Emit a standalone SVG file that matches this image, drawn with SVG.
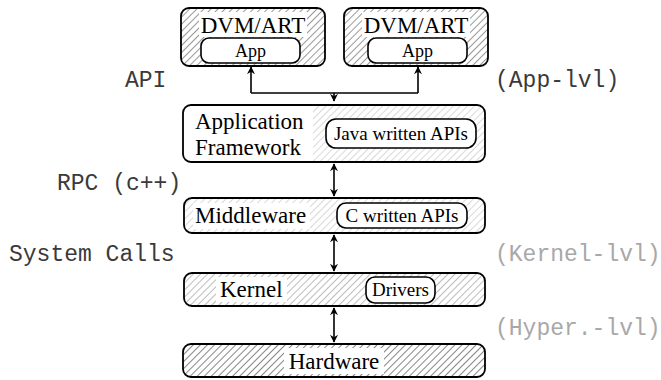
<svg xmlns="http://www.w3.org/2000/svg" width="661" height="380" viewBox="0 0 661 380">
  <style>
    .box { fill: none; stroke: #000; stroke-width: 1.8; }
    .inner { fill: #fff; stroke: #000; stroke-width: 1.6; }
    .serif { font-family: "Liberation Serif", "Times New Roman", serif; fill: #000; }
    .big { font-size: 23px; }
    .mid { font-size: 19px; }
    .small { font-size: 18px; }
    .mono { font-family: "Liberation Mono", "Courier New", monospace; font-size: 23px; }
    .dark { fill: #3a3a3a; }
    .gray { fill: #a8a8a8; }
    .wire { fill: none; stroke: #000; stroke-width: 1.6; }
  </style>
  <defs>
    <pattern id="hatchDark" width="5" height="5" patternUnits="userSpaceOnUse" patternTransform="rotate(45)">
      <rect width="5" height="5" fill="#fff"/>
      <line x1="0" y1="0" x2="0" y2="5" stroke="#444" stroke-width="1.1"/>
    </pattern>
    <pattern id="hatchLight" width="5" height="5" patternUnits="userSpaceOnUse" patternTransform="rotate(45)">
      <rect width="5" height="5" fill="#fff"/>
      <line x1="0" y1="0" x2="0" y2="5" stroke="#b4b4b4" stroke-width="1"/>
    </pattern>
    <pattern id="hatchMid" width="5" height="5" patternUnits="userSpaceOnUse" patternTransform="rotate(45)">
      <rect width="5" height="5" fill="#fff"/>
      <line x1="0" y1="0" x2="0" y2="5" stroke="#7a7a7a" stroke-width="1"/>
    </pattern>
    <pattern id="hatchBlack" width="5" height="5" patternUnits="userSpaceOnUse" patternTransform="rotate(45)">
      <rect width="5" height="5" fill="#fff"/>
      <line x1="0" y1="0" x2="0" y2="5" stroke="#222" stroke-width="1.1"/>
    </pattern>
    <clipPath id="fwClip">
      <rect x="183" y="105" width="302" height="57" rx="8"/>
    </clipPath>
    <marker id="head" viewBox="0 0 10 10" refX="9" refY="5" markerWidth="8" markerHeight="8" orient="auto-start-reverse" markerUnits="userSpaceOnUse">
      <path d="M0,0 L10,5 L0,10 L3,5 Z" fill="#000"/>
    </marker>
  </defs>

  <!-- runtime boxes -->
  <g id="dvm-left">
    <rect x="181" y="8" width="144" height="58" rx="8" fill="url(#hatchDark)"/>
    <rect x="199" y="12" width="108" height="25" fill="#fff"/>
    <rect x="181" y="8" width="144" height="58" rx="8" class="box"/>
    <text x="253" y="33" text-anchor="middle" class="serif big">DVM/ART</text>
    <rect x="201" y="38" width="99" height="25" rx="8" class="inner"/>
    <text x="250.5" y="57" text-anchor="middle" class="serif small">App</text>
  </g>
  <g id="dvm-right">
    <rect x="344" y="8" width="144" height="58" rx="8" fill="url(#hatchDark)"/>
    <rect x="362" y="12" width="108" height="25" fill="#fff"/>
    <rect x="344" y="8" width="144" height="58" rx="8" class="box"/>
    <text x="416" y="33" text-anchor="middle" class="serif big">DVM/ART</text>
    <rect x="368" y="38" width="99" height="25" rx="8" class="inner"/>
    <text x="417.5" y="57" text-anchor="middle" class="serif small">App</text>
  </g>

  <!-- application framework -->
  <g id="framework">
    <rect x="183" y="105" width="302" height="57" rx="8" fill="#fff"/>
    <rect x="313" y="105" width="172" height="57" fill="url(#hatchLight)" clip-path="url(#fwClip)"/>
    <rect x="183" y="105" width="302" height="57" rx="8" class="box"/>
    <text x="195" y="129" class="serif big">Application</text>
    <text x="195" y="155" class="serif big">Framework</text>
    <rect x="326" y="119" width="150" height="29" rx="10" class="inner"/>
    <text x="401" y="139.5" text-anchor="middle" class="serif mid">Java written APIs</text>
  </g>

  <!-- middleware -->
  <g id="middleware">
    <rect x="184" y="198" width="301" height="35" rx="8" fill="url(#hatchLight)"/>
    <rect x="193" y="203" width="117" height="26" fill="#fff"/>
    <rect x="184" y="198" width="301" height="35" rx="8" class="box"/>
    <text x="195" y="223" class="serif big">Middleware</text>
    <rect x="337" y="203" width="130" height="25" rx="9" class="inner"/>
    <text x="402" y="222" text-anchor="middle" class="serif mid">C written APIs</text>
  </g>

  <!-- kernel -->
  <g id="kernel">
    <rect x="184" y="273" width="301" height="33" rx="8" fill="url(#hatchMid)"/>
    <rect x="216" y="277" width="71" height="25" fill="#fff"/>
    <rect x="184" y="273" width="301" height="33" rx="8" class="box"/>
    <text x="220" y="297" class="serif big">Kernel</text>
    <rect x="366" y="277" width="69" height="26" rx="9" class="inner"/>
    <text x="400.5" y="296" text-anchor="middle" class="serif mid">Drivers</text>
  </g>

  <!-- hardware -->
  <g id="hardware">
    <rect x="183" y="344" width="302" height="33" rx="8" fill="url(#hatchBlack)"/>
    <rect x="284" y="348" width="100" height="26" fill="#fff"/>
    <rect x="183" y="344" width="302" height="33" rx="8" class="box"/>
    <text x="334" y="369" text-anchor="middle" class="serif big">Hardware</text>
  </g>

  <!-- connectors -->
  <g id="connectors">
    <path d="M251,93 L251,67" class="wire" marker-end="url(#head)"/>
    <path d="M418,93 L418,67" class="wire" marker-end="url(#head)"/>
    <path d="M251,93 L418,93" class="wire"/>
    <path d="M334,93 L334,101" class="wire" marker-end="url(#head)"/>
    <path d="M334,164 L334,196" class="wire" marker-start="url(#head)" marker-end="url(#head)"/>
    <path d="M334,235 L334,271" class="wire" marker-start="url(#head)" marker-end="url(#head)"/>
    <path d="M334,308 L334,342" class="wire" marker-start="url(#head)" marker-end="url(#head)"/>
  </g>

  <!-- interface labels -->
  <g id="labels">
    <text x="125" y="87" class="mono dark">API</text>
    <text x="57" y="190" class="mono dark">RPC (c++)</text>
    <text x="9" y="261" class="mono dark">System Calls</text>
    <text x="495" y="87" class="mono dark">(App-lvl)</text>
    <text x="495" y="261" class="mono gray">(Kernel-lvl)</text>
    <text x="495" y="335" class="mono gray">(Hyper.-lvl)</text>
  </g>
</svg>
